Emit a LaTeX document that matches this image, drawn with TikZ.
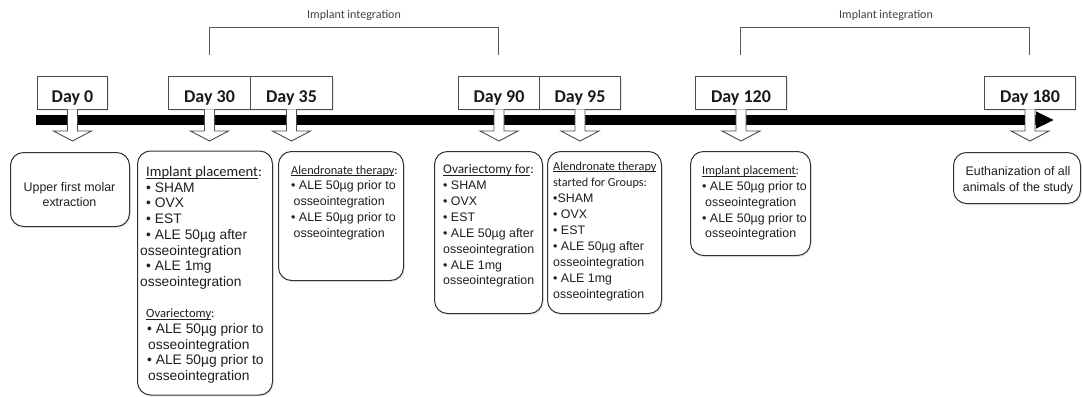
\documentclass[tikz,border=0pt]{standalone}
\usepackage{fontspec}
\setmainfont{Liberation Sans}
\newfontfamily\calfont{Carlito}
\usetikzlibrary{calc,arrows.meta,shadows}
\newsavebox\hulbox
\newcommand\hul[1]{\sbox\hulbox{#1}\rlap{\rule[-1.7pt]{\wd\hulbox}{0.6pt}}\usebox\hulbox}
\begin{document}
\begin{tikzpicture}[x=1pt,y=-1pt,
  shade/.style={drop shadow={opacity=0.16, shadow xshift=1.3pt, shadow yshift=-1.6pt}},
  daybox/.style={draw=black!70, line width=1pt, fill=white, inner sep=0pt,
    minimum height=33pt, text height=22pt, text depth=2.4pt, anchor=north west,
    font=\calfont\bfseries\fontsize{18}{20}\selectfont, text=black!90, shade},
  callout/.style={draw=black!70, line width=0.9pt, fill=white, line join=miter},
  bracket/.style={draw=black!65, line width=1pt},
  intlabel/.style={font=\calfont\fontsize{12}{14}\selectfont, text=black!75, inner sep=0pt},
  frame/.style={draw=black!80, line width=1pt, rounded corners=13pt, fill=white,
    anchor=north west, inner sep=0pt, shade},
  boxtext/.style={anchor=base west, align=left, inner sep=0pt, text=black!88,
    font=\fontsize{12.4}{15.8}\selectfont},
  ctext/.style={anchor=base, align=center, inner sep=0pt, text=black!88,
    font=\fontsize{12.4}{15.5}\selectfont}
]
\useasboundingbox (0,0) rectangle (1083,396);

% brackets
\coordinate (b1a) at (209,55); \coordinate (b1b) at (498.5,55);
\coordinate (b2a) at (740.5,55); \coordinate (b2b) at (1029.5,55);
\draw[bracket] (b1a) -- ++(0,-27) -| (b1b);
\draw[bracket] (b2a) -- ++(0,-27) -| (b2b);
\node[intlabel] (lab1) at (354,15) {Implant integration};
\node[intlabel] (lab2) at (886,15) {Implant integration};

% timeline bar
\coordinate (tl0) at (36,120);
\coordinate (tl1) at (1054,120);
\draw[line width=10pt, -{Triangle[length=18pt,width=16pt]}] (tl0) -- (tl1);

% day boxes
\node[daybox, minimum width=70pt] (d0) at (37,76) {Day 0};
\node[daybox, minimum width=82pt] (d30) at (168,76) {Day 30};
\node[daybox, minimum width=82pt] (d35) at (250,76) {Day 35};
\node[daybox, minimum width=81pt] (d90) at (458,76) {Day 90};
\node[daybox, minimum width=81pt] (d95) at (539,76) {Day 95};
\node[daybox, minimum width=91pt] (d120) at (695,76) {Day 120};
\node[daybox, minimum width=91pt] (d180) at (984,76) {Day 180};

% hollow down arrows
\foreach \n in {d0,d30,d35,d90,d95,d120,d180}{
  \draw[callout] ($(\n.south)+(-5,-0.6)$) -- ++(0,21.6) -- ++(-14,0) -- ++(19,10)
     -- ++(19,-10) -- ++(-14,0) -- ++(0,-21.6);
}

% lower boxes
\node[frame, minimum width=119pt, minimum height=74pt] (b1) at (10,152) {};
\node[frame, minimum width=135pt, minimum height=244pt] (b2) at (137,150.5) {};
\node[frame, minimum width=125pt, minimum height=129pt] (b3) at (278,151) {};
\node[frame, minimum width=108pt, minimum height=162pt] (b4) at (434,151) {};
\node[frame, minimum width=114pt, minimum height=162pt] (b5) at (547,151) {};
\node[frame, minimum width=120pt, minimum height=104pt] (b6) at (690,151) {};
\node[frame, minimum width=127pt, minimum height=51pt] (b7) at (953,152) {};

% texts (anchor = baseline of the last line)
\node[ctext] (t1) at (69.5,206.5) {Upper first molar\\extraction};

\node[boxtext, font=\fontsize{13.8}{15.7}\selectfont] (t2) at (140,380.6) {%
\hspace*{6pt}{\calfont\fontsize{14.6}{15.7}\selectfont\hul{Implant placement}:}\\
\hspace*{6pt}• SHAM\\
\hspace*{6pt}• OVX\\
\hspace*{6pt}• EST\\
\hspace*{6pt}• ALE 50µg after\\
osseointegration\\
\hspace*{6pt}• ALE 1mg\\
osseointegration\\[15.7pt]
\hspace*{6pt}{\calfont\fontsize{12.6}{15.7}\selectfont\hul{Ovariectomy}:}\\
\hspace*{7pt}• ALE 50µg prior to\\
\hspace*{8pt}osseointegration\\
\hspace*{7pt}• ALE 50µg prior to\\
\hspace*{8pt}osseointegration};

\node[boxtext] (t3) at (291,237.2) {%
{\calfont\fontsize{12.3}{15.8}\selectfont\hul{Alendronate therapy}:}\\
• ALE 50µg prior to\\
\hspace*{2.5pt}osseointegration\\
• ALE 50µg prior to\\
\hspace*{2.5pt}osseointegration};

\node[boxtext, font=\fontsize{12.4}{15.9}\selectfont] (t4) at (443,284.9) {%
{\calfont\fontsize{13.3}{15.9}\selectfont\hul{Ovariectomy for}:}\\
• SHAM\\
• OVX\\
• EST\\
• ALE 50µg after\\
osseointegration\\
• ALE 1mg\\
osseointegration};

\node[boxtext, font=\fontsize{12.4}{16}\selectfont] (t5) at (553,298) {%
{\calfont\fontsize{12.3}{16}\selectfont\hul{Alendronate therapy}}\\
{\calfont\fontsize{12.2}{16}\selectfont started for Groups:}\\
•SHAM\\
• OVX\\
• EST\\
• ALE 50µg after\\
osseointegration\\
• ALE 1mg\\
osseointegration};

\node[boxtext] (t6) at (702,237.8) {%
{\calfont\fontsize{12.2}{15.8}\selectfont\hul{Implant placement}:}\\
• ALE 50µg prior to\\
\hspace*{3pt}osseointegration\\
• ALE 50µg prior to\\
\hspace*{3pt}osseointegration};

\node[ctext, font=\fontsize{12.4}{16}\selectfont] (t7) at (1018,191.1) {Euthanization of all\\animals of the study};
\end{tikzpicture}
\end{document}
